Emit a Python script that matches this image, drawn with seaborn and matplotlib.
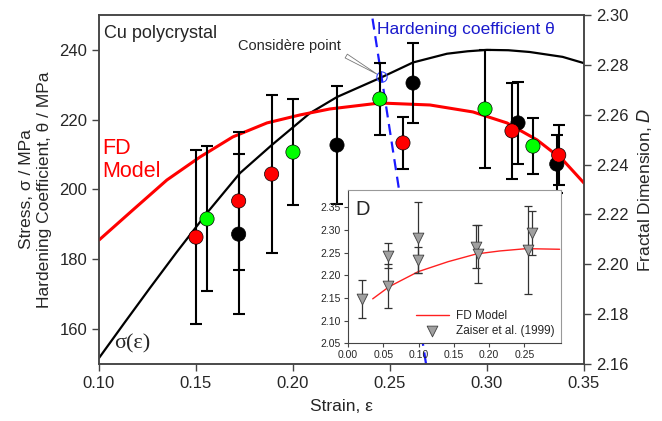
import numpy as np
import pandas as pd
import seaborn as sns
import matplotlib
import matplotlib.pyplot as plt
from matplotlib.ticker import FormatStrFormatter

matplotlib.use("Agg")
sns.set_style("ticks")
plt.rcParams["font.family"] = ["Liberation Sans", "DejaVu Sans"]

# stress-strain curve sigma(eps), left axis (MPa)
sigma_strain = [0.100, 0.113, 0.1263, 0.140, 0.156, 0.1727, 0.189, 0.2088,
                0.2227, 0.2459, 0.2619, 0.2794, 0.290, 0.300, 0.311, 0.322,
                0.339, 0.350]
sigma_mpa = [151.7, 161.7, 171.8, 182.0, 193.5, 204.7, 212.7, 221.9,
             226.5, 232.2, 236.4, 238.9, 239.6, 240.0, 239.9, 239.4,
             238.0, 236.2]

# hardening coefficient theta (blue dashed), left axis
theta_strain = [0.2396, 0.2686]
theta_mpa = [254.0, 150.0]
considere = (0.2459, 232.2)

# FD model, right axis (fractal dimension D)
fd_strain = [0.100, 0.1175, 0.135, 0.152, 0.169, 0.1866, 0.2036, 0.219,
             0.2448, 0.2706, 0.2928, 0.3103, 0.3258, 0.3392, 0.350]
fd_d = [2.2097, 2.2218, 2.2338, 2.2430, 2.2511, 2.2567, 2.2599, 2.2623,
        2.2647, 2.2639, 2.2611, 2.2567, 2.2499, 2.2418, 2.2326]

# measured fractal dimensions with error bars
pt_strain = [0.150, 0.1557, 0.172, 0.172, 0.189, 0.200, 0.2227, 0.2448,
             0.2567, 0.2619, 0.299, 0.316, 0.3129, 0.3237, 0.336, 0.337]
pt_d = [2.2109, 2.2182, 2.2254, 2.2121, 2.2362, 2.2450, 2.2478, 2.2663,
        2.2487, 2.2727, 2.2623, 2.2567, 2.2535, 2.2474, 2.2402, 2.2438]
pt_err = [0.0349, 0.0291, 0.0277, 0.0321, 0.0317, 0.0213, 0.0237, 0.0144,
          0.0104, 0.0160, 0.0237, 0.0164, 0.0193, 0.0112, 0.0116, 0.0120]
pt_group = ["red", "green", "red", "black", "red", "green", "black", "green",
            "red", "black", "green", "black", "red", "green", "black", "red"]

# inset: FD model vs Zaiser et al. (1999)
in_fd_strain = [0.035, 0.0585, 0.0996, 0.142, 0.182, 0.2153, 0.253, 0.300]
in_fd_d = [2.148, 2.175, 2.208, 2.230, 2.247, 2.2536, 2.2587, 2.2573]
zs_strain = [0.0194, 0.057, 0.057, 0.0996, 0.0996, 0.182, 0.1845, 0.2607, 0.2550]
zs_d = [2.148, 2.243, 2.176, 2.283, 2.234, 2.263, 2.246, 2.293, 2.2555]
zs_err = [0.0415, 0.028, 0.049, 0.079, 0.029, 0.047, 0.064, 0.048, 0.0975]

points = pd.DataFrame({"strain": pt_strain, "D": pt_d, "err": pt_err, "group": pt_group})
palette = {"red": "#ff0000", "green": "#00ff00", "black": "#000000"}
spine_c = "#444444"

fig = plt.figure(figsize=(6.62, 4.21), dpi=100)
ax = fig.add_axes([0.1495, 0.1354, 0.7326, 0.829])
ax2 = ax.twinx()

sns.lineplot(x=sigma_strain, y=sigma_mpa, ax=ax, color="black", lw=1.6,
             sort=False, estimator=None)
sns.lineplot(x=theta_strain, y=theta_mpa, ax=ax, color="#1a1aff", lw=1.6,
             linestyle=(0, (5, 3)), sort=False, estimator=None)
sns.scatterplot(x=[considere[0]], y=[considere[1]], ax=ax, s=55, marker="o",
                facecolor="none", edgecolor="#3344ff", linewidth=0.8, zorder=5)
ax.annotate("Considère point", xy=considere, xytext=(0.1715, 240.0),
            fontsize=10.5, ha="left", va="baseline",
            arrowprops=dict(arrowstyle="wedge,tail_width=0.3", fc="white",
                            ec="#777777", lw=0.6, relpos=(0.98, 0.1),
                            shrinkB=4))

sns.lineplot(x=fd_strain, y=fd_d, ax=ax2, color="#ff0000", lw=2.2,
             sort=False, estimator=None, zorder=2)
ax2.errorbar(points["strain"], points["D"], yerr=points["err"], fmt="none",
             ecolor="black", elinewidth=1.5, capsize=4.5, capthick=1.5, zorder=3)
sns.scatterplot(data=points, x="strain", y="D", hue="group", palette=palette,
                s=105, edgecolor="black", linewidth=0.5, legend=False,
                ax=ax2, zorder=4)

ax.set_xlim(0.10, 0.35)
ax.set_ylim(150, 250)
ax2.set_ylim(2.16, 2.30)
ax.set_xticks([0.10, 0.15, 0.20, 0.25, 0.30, 0.35])
ax.set_yticks([160, 180, 200, 220, 240])
ax2.set_yticks([2.16, 2.18, 2.20, 2.22, 2.24, 2.26, 2.28, 2.30])
ax.xaxis.set_major_formatter(FormatStrFormatter("%.2f"))
ax2.yaxis.set_major_formatter(FormatStrFormatter("%.2f"))
for a in (ax, ax2):
    a.tick_params(labelsize=12, length=5, width=1, color=spine_c)
    for s in a.spines.values():
        s.set_color(spine_c)
        s.set_linewidth(1.1)

ax.set_xlabel("Strain, ε", fontsize=12.5, labelpad=6)
ax.set_ylabel("Stress, σ / MPa\nHardening Coefficient, θ / MPa", fontsize=12.5,
              labelpad=5, linespacing=1.3)
ax2.set_ylabel("Fractal Dimension, $\\it{D}$", fontsize=12.5, labelpad=5)

ax.text(0.1026, 243.4, "Cu polycrystal", fontsize=13, va="baseline")
ax.text(0.1018, 203.5, "FD\nModel", fontsize=15.5, color="#ff0000",
        va="baseline", linespacing=1.15)
ax.text(0.108, 154.5, "σ(ε)", fontsize=16, va="baseline",
        family=["Liberation Serif", "DejaVu Serif"])
ax.text(0.2435, 244.6, "Hardening coefficient θ", fontsize=12.5,
        color="#1a1acc", va="baseline")

# inset panel
ins = fig.add_axes([0.5257, 0.1846, 0.3218, 0.3641])
ins.set_facecolor("white")
sns.lineplot(x=in_fd_strain, y=in_fd_d, ax=ins, color="#ff2020", lw=1.0,
             sort=False, estimator=None, label="FD Model")
ins.errorbar(zs_strain, zs_d, yerr=zs_err, fmt="none", ecolor="#333333",
             elinewidth=0.9, capsize=3, capthick=0.9, zorder=3)
sns.scatterplot(x=zs_strain, y=zs_d, ax=ins, marker="v", s=60,
                color="#a0a0a0", edgecolor="#404040", linewidth=0.6,
                label="Zaiser et al. (1999)", zorder=4)
ins.set_xlim(0.0, 0.302)
ins.set_ylim(2.05, 2.388)
ins.set_xticks([0.00, 0.05, 0.10, 0.15, 0.20, 0.25])
ins.set_yticks([2.05, 2.10, 2.15, 2.20, 2.25, 2.30, 2.35])
ins.xaxis.set_major_formatter(FormatStrFormatter("%.2f"))
ins.yaxis.set_major_formatter(FormatStrFormatter("%.2f"))
ins.tick_params(labelsize=7.5, length=3, width=0.8, color=spine_c, pad=2)
for side, s in ins.spines.items():
    s.set_linewidth(0.8)
    s.set_color(spine_c if side in ("left", "bottom") else "#999999")
ins.text(0.011, 2.333, "D", fontsize=14.5, va="baseline")
ins.legend(loc="lower right", fontsize=8.5, frameon=False, handlelength=2.8,
           borderaxespad=0.15, labelspacing=0.25, handletextpad=0.6)

plt.savefig("out.png", dpi=100)
